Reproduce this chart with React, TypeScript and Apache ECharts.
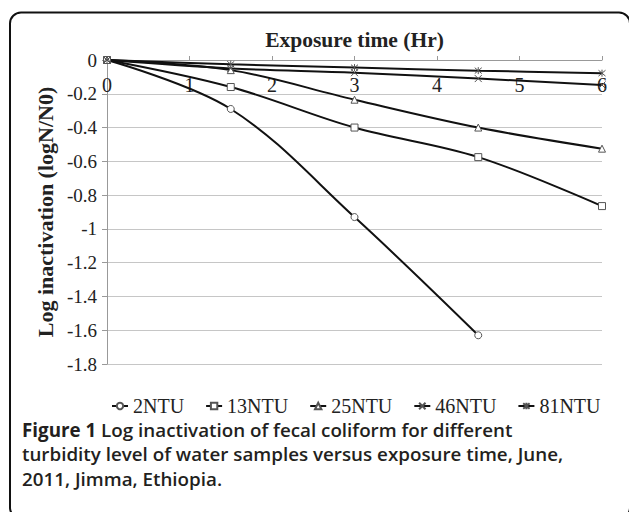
import React, { useEffect, useRef } from "react";
import * as echarts from "echarts";

const times = [0, 1.5, 3, 4.5, 6];
const seriesNames = ["2NTU", "13NTU", "25NTU", "46NTU", "81NTU"];
const ntu2 = [0, -0.29, -0.93, -1.63, null];
const ntu13 = [0, -0.16, -0.4, -0.575, -0.865];
const ntu25 = [0, -0.06, -0.235, -0.4, -0.525];
const ntu46 = [0, -0.05, -0.075, -0.11, -0.148];
const ntu81 = [0, -0.025, -0.045, -0.063, -0.078];
const yTicks = [0, -0.2, -0.4, -0.6, -0.8, -1, -1.2, -1.4, -1.6, -1.8];
const captionLines = [
  ["Figure 1", " Log inactivation of fecal coliform for different"],
  ["", "turbidity level of water samples versus exposure time, June,"],
  ["", "2011, Jimma, Ethiopia."],
];

const SERIF = "'Liberation Serif', 'Times New Roman', serif";
const SANS = "'Open Sans', 'Noto Sans', sans-serif";

const symbols = [
  "circle",
  "rect",
  "triangle",
  "path://M0,0L10,10M10,0L0,10",
  "path://M0,0L10,10M10,0L0,10M5,-1L5,11",
];

export default function App() {
  const ref = useRef<HTMLDivElement>(null);
  useEffect(() => {
    if (!ref.current) return;
    const chart = echarts.init(ref.current, undefined, { renderer: "svg" });
    const datas = [ntu2, ntu13, ntu25, ntu46, ntu81];
    const series = datas.map((d, i) => ({
      name: seriesNames[i],
      type: "line",
      data: times
        .map((t, j) => (d[j] === null ? null : [t, d[j]]))
        .filter((p) => p !== null),
      smooth: 0.35,
      symbol: symbols[i],
      symbolSize: 7,
      showSymbol: true,
      lineStyle: { color: "#111", width: 2 },
      itemStyle: {
        color: i >= 3 ? "none" : "#ffffff",
        borderColor: "#555",
        borderWidth: 1,
      },
      z: 3,
    }));
    chart.setOption({
      animation: false,
      backgroundColor: "#ffffff",
      grid: { left: 107, right: 27, top: 60, bottom: 148 },
      legend: {
        left: 106,
        top: 391,
        itemWidth: 16,
        itemHeight: 8,
        itemGap: 21,
        data: seriesNames,
        textStyle: { fontFamily: SERIF, fontSize: 20, color: "#222" },
      },
      xAxis: {
        type: "value",
        position: "top",
        min: 0,
        max: 6,
        interval: 1,
        name: "Exposure time (Hr)",
        nameLocation: "middle",
        nameGap: 9,
        nameTextStyle: { fontFamily: SERIF, fontSize: 21.5, fontWeight: "bold", color: "#222" },
        axisLine: { show: true, onZero: false, lineStyle: { color: "#999", width: 1 } },
        axisTick: { show: true, length: 4, lineStyle: { color: "#999" } },
        axisLabel: { inside: true, margin: 15, fontFamily: SERIF, fontSize: 20, color: "#222" },
        splitLine: { show: false },
      },
      yAxis: {
        type: "value",
        min: -1.8,
        max: 0,
        interval: 0.2,
        name: "Log inactivation (logN/N0)",
        nameLocation: "middle",
        nameGap: 49,
        nameTextStyle: { fontFamily: SERIF, fontSize: 22, fontWeight: "bold", color: "#222" },
        axisLine: { show: true, lineStyle: { color: "#999", width: 1 } },
        axisTick: { show: true, length: 5, lineStyle: { color: "#999" } },
        axisLabel: {
          margin: 10,
          fontFamily: SERIF,
          fontSize: 19,
          color: "#222",
          formatter: (v: number) => {
            const m = yTicks.find((t) => Math.abs(t - v) < 1e-6);
            return String(m !== undefined ? m : v);
          },
        },
        splitLine: { show: true, lineStyle: { color: "#c6c6c6", width: 1 } },
      },
      series,
      graphic: [
        {
          type: "rect",
          shape: { x: 10, y: 12.5, width: 620, height: 506, r: 11 },
          style: { fill: "none", stroke: "#111", lineWidth: 2 },
          silent: true,
        },
        ...captionLines.map((ln, i) => ({
          type: "text",
          left: 22,
          top: 420 + i * 24.5,
          style: {
            text: (ln[0] ? "{a|" + ln[0] + "}" : "") + "{b|" + ln[1] + "}",
            rich: {
              a: { fontFamily: SANS, fontSize: 18.8, fontWeight: 700, fill: "#231f20" },
              b: { fontFamily: SANS, fontSize: 18.8, fontWeight: 600, fill: "#231f20" },
            },
          },
        })),
      ],
    });
    return () => chart.dispose();
  }, []);
  return (
    <div
      ref={ref}
      style={{ position: "fixed", left: 0, top: 0, width: 629, height: 512 }}
    />
  );
}
